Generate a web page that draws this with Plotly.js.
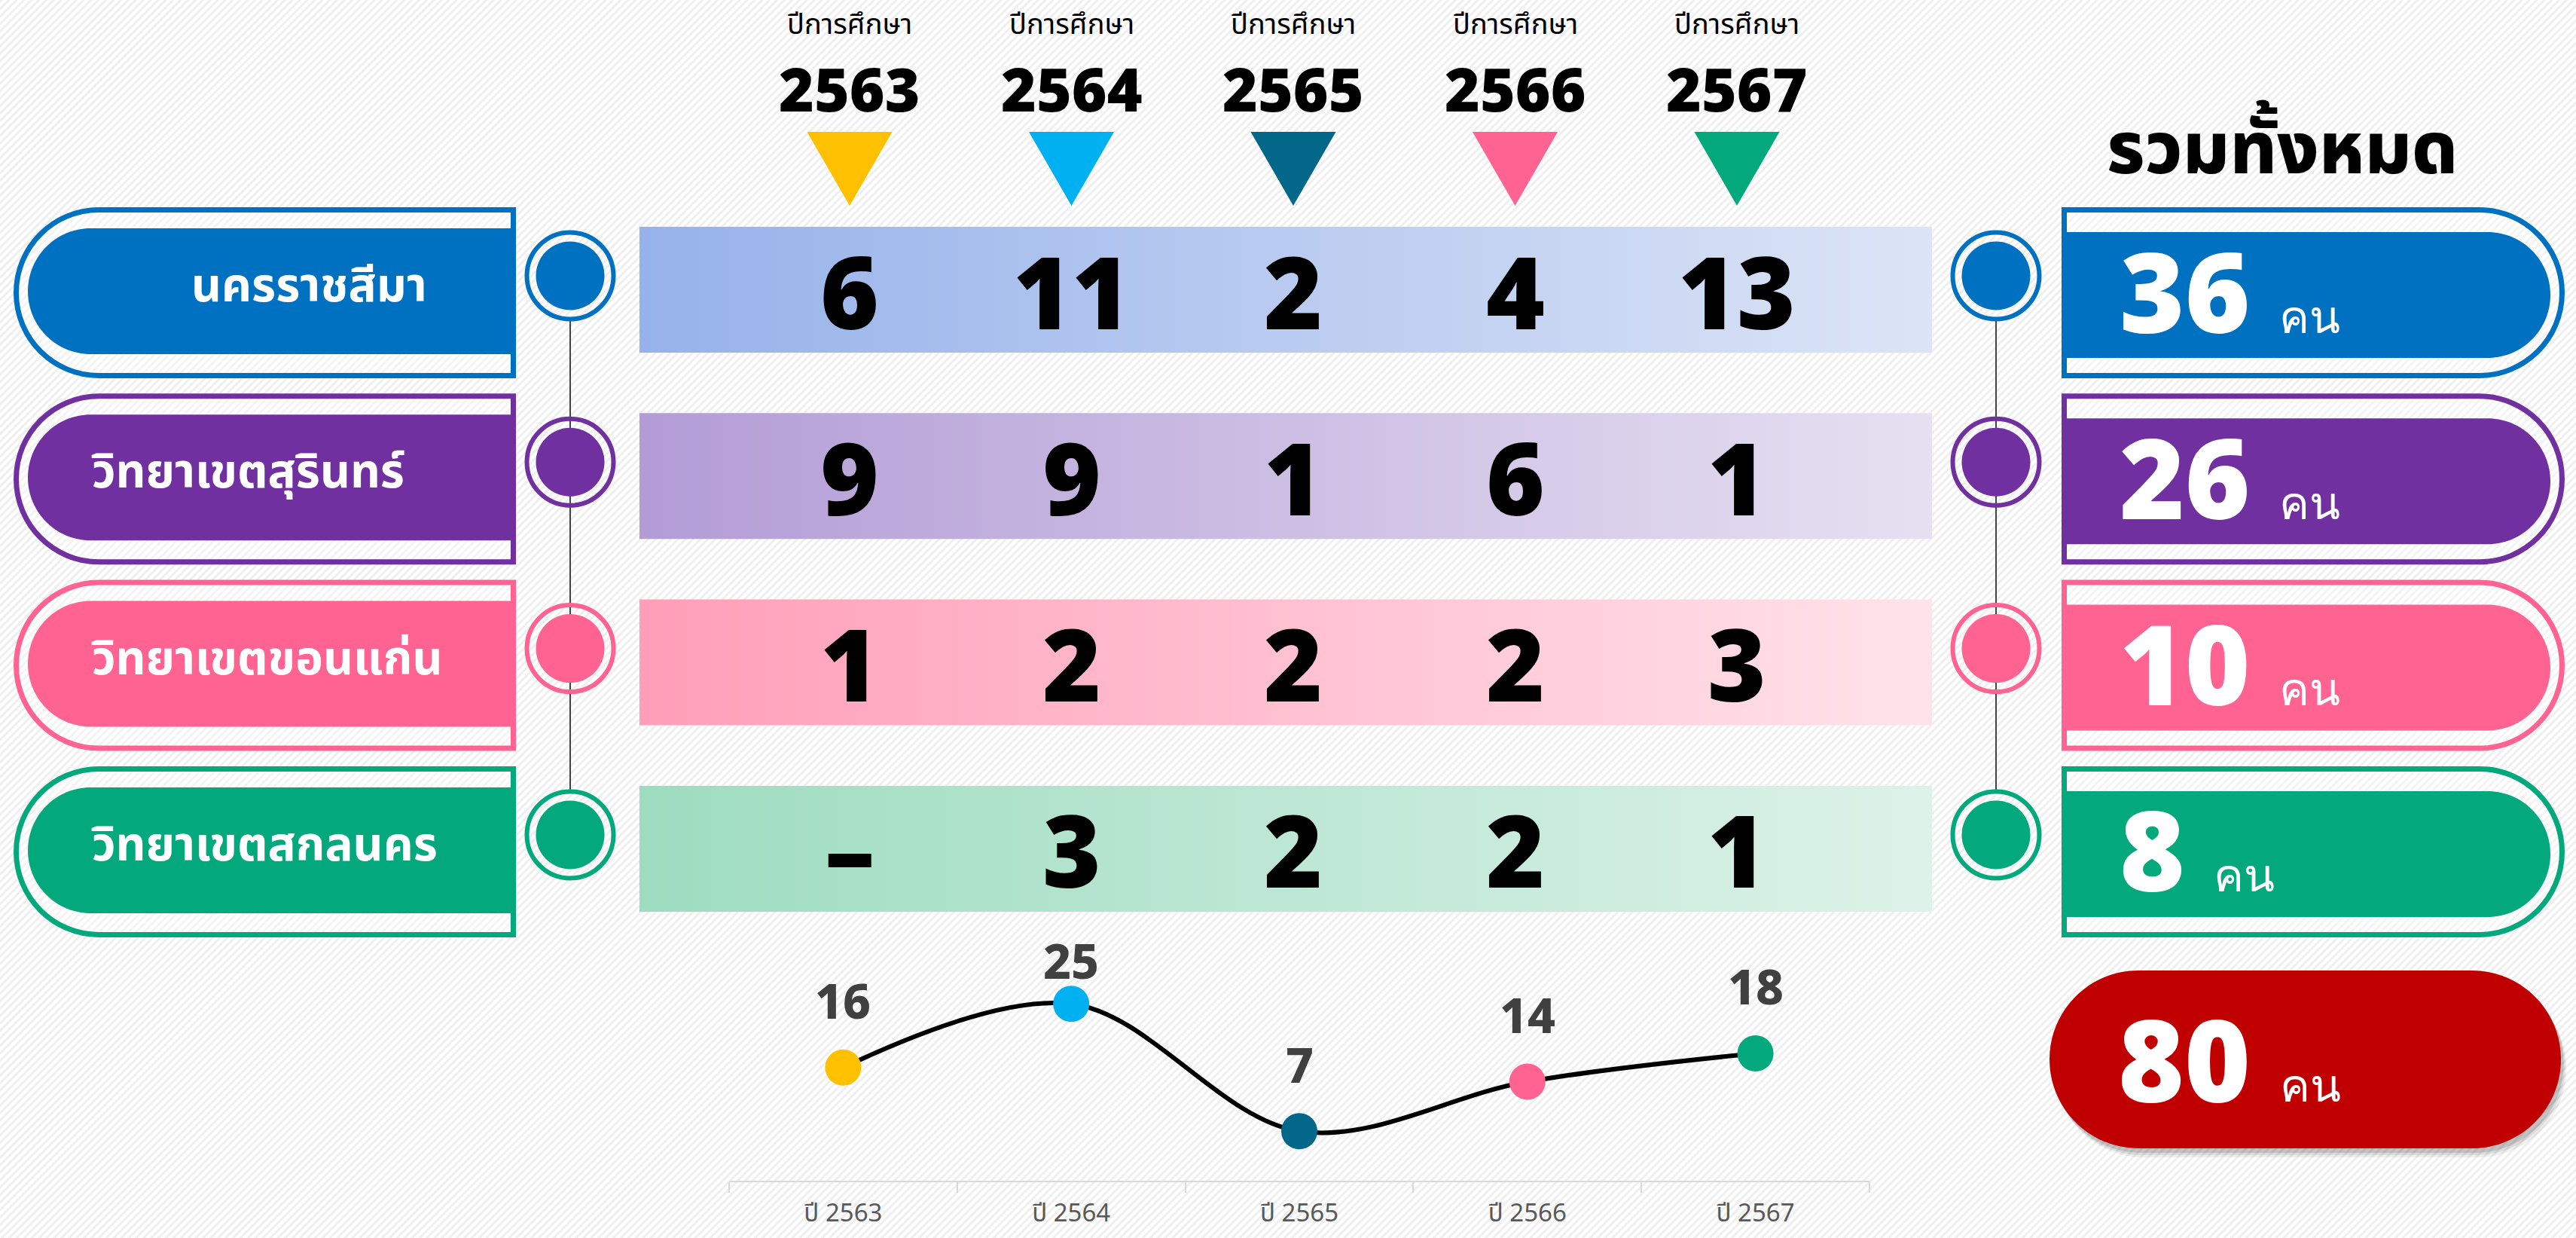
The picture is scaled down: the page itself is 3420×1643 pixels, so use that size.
<!DOCTYPE html>
<html>
<head>
<meta charset="utf-8">
<script src="https://cdn.plot.ly/plotly-3.0.1.min.js"></script>
<style>html,body{margin:0;padding:0;background:#fff;}#chart{width:3420px;height:1643px;}</style>
</head>
<body>
<div id="chart"></div>
<script>
// ---------------- DATA ----------------
const years = ['2563', '2564', '2565', '2566', '2567'];
const yearHeader = 'ปีการศึกษา';
const axisLabels = ['ปี 2563', 'ปี 2564', 'ปี 2565', 'ปี 2566', 'ปี 2567'];
const campuses = ['นครราชสีมา', 'วิทยาเขตสุรินทร์', 'วิทยาเขตขอนแก่น', 'วิทยาเขตสกลนคร'];
const nakhonRatchasima = [6, 11, 2, 4, 13];
const surin = [9, 9, 1, 6, 1];
const khonKaen = [1, 2, 2, 2, 3];
const sakonNakhon = [null, 3, 2, 2, 1];
const campusTotals = [36, 26, 10, 8];
const yearTotals = [16, 25, 7, 14, 18];
const grandTotal = 80;
const totalTitle = 'รวมทั้งหมด';
const unit = 'คน';

// ---------------- STYLE ----------------
const W = 3420, H = 1643;
const yearColors = ['#FFC000', '#00B0F0', '#03678A', '#FF6392', '#03A87C'];
const rowColors = ['#0070C0', '#7030A0', '#FF6392', '#03A87C'];
const bandGrad = [['#96B2EA', '#DCE4F6'], ['#B39CD6', '#E6E0F1'], ['#FF9EB8', '#FFE3EA'], ['#9DDCC0', '#DDF2E8']];
const THAI = '"Noto Sans Thai", "Noto Sans Thai UI", "Noto Sans", sans-serif';
const NUM = '"Noto Sans", "DejaVu Sans", sans-serif';
const rows = [nakhonRatchasima, surin, khonKaen, sakonNakhon];
const rowTop = i => 301 + i * 247.3;
const labelX = [252, 119, 119, 119];
const labelLift = [89, 58, 89, 89, 89];

function pillL(x0, x1, y0, y1) {
  const r = (y1 - y0) / 2, k = 0.5523 * r, ym = (y0 + y1) / 2, xc = x0 + r;
  return `M${x1},${y0} L${xc},${y0} C${xc - k},${y0} ${x0},${ym - k} ${x0},${ym} C${x0},${ym + k} ${xc - k},${y1} ${xc},${y1} L${x1},${y1} Z`;
}
function pillR(x0, x1, y0, y1) {
  const r = (y1 - y0) / 2, k = 0.5523 * r, ym = (y0 + y1) / 2, xc = x1 - r;
  return `M${x0},${y0} L${xc},${y0} C${xc + k},${y0} ${x1},${ym - k} ${x1},${ym} C${x1},${ym + k} ${xc + k},${y1} ${xc},${y1} L${x0},${y1} Z`;
}
function pillB(x0, x1, y0, y1) {
  const r = (y1 - y0) / 2, k = 0.5523 * r, ym = (y0 + y1) / 2, xa = x0 + r, xb = x1 - r;
  return `M${xa},${y0} L${xb},${y0} C${xb + k},${y0} ${x1},${ym - k} ${x1},${ym} C${x1},${ym + k} ${xb + k},${y1} ${xb},${y1} L${xa},${y1} C${xa - k},${y1} ${x0},${ym + k} ${x0},${ym} C${x0},${ym - k} ${xa - k},${y0} ${xa},${y0} Z`;
}

const shapes = [];
const annotations = [];
const traces = [];

// connector lines
const cy = i => rowTop(i) + 65;
[757, 2650].forEach(cx => {
  shapes.push({type: 'line', xref: 'x', yref: 'y', x0: cx, x1: cx, y0: cy(0) + 60, y1: cy(3) - 60, line: {color: '#444444', width: 2}, layer: 'below'});
});

rows.forEach((vals, i) => {
  const t = rowTop(i), c = rowColors[i];
  // left label pill
  shapes.push({type: 'path', xref: 'x', yref: 'y', path: pillL(21.5, 681.5, t - 22.5, t + 197.5), line: {color: c, width: 7}, fillcolor: 'rgba(255,255,255,0.35)', layer: 'below'});
  shapes.push({type: 'path', xref: 'x', yref: 'y', path: pillL(37, 678, t + 2, t + 169), line: {width: 0}, fillcolor: c, layer: 'below'});
  // right total pill
  shapes.push({type: 'path', xref: 'x', yref: 'y', path: pillR(2740.5, 3401.5, t - 22.5, t + 197.5), line: {color: c, width: 7}, fillcolor: 'rgba(255,255,255,0.35)', layer: 'below'});
  shapes.push({type: 'path', xref: 'x', yref: 'y', path: pillR(2744, 3386, t + 7, t + 174), line: {width: 0}, fillcolor: c, layer: 'below'});
  // circles
  [757, 2650].forEach(cx => {
    shapes.push({type: 'circle', xref: 'x', yref: 'y', x0: cx - 57.5, x1: cx + 57.5, y0: cy(i) - 57.5, y1: cy(i) + 57.5, line: {color: c, width: 6}, fillcolor: 'rgba(0,0,0,0)', layer: 'below'});
    shapes.push({type: 'circle', xref: 'x', yref: 'y', x0: cx - 45.5, x1: cx + 45.5, y0: cy(i) - 45.5, y1: cy(i) + 45.5, line: {width: 0}, fillcolor: c, layer: 'below'});
  });
  // gradient band
  traces.push({
    type: 'scatter', mode: 'lines', xaxis: 'x', yaxis: 'y', hoverinfo: 'skip', showlegend: false,
    x: [849, 2565, 2565, 849, 849], y: [t, t, t + 167, t + 167, t],
    fill: 'toself', line: {width: 0, color: 'rgba(0,0,0,0)'},
    fillgradient: {type: 'horizontal', colorscale: [[0, bandGrad[i][0]], [1, bandGrad[i][1]]]}
  });
  // campus label
  annotations.push({xref: 'x', yref: 'y', x: labelX[i], y: t + 80, xanchor: 'left', yanchor: 'middle', showarrow: false,
    text: campuses[i], font: {family: THAI, size: 62, color: '#ffffff', weight: 700}});
  // table values
  vals.forEach((v, j) => {
    annotations.push({xref: 'x3', yref: 'y3', x: j, y: i, xanchor: 'center', yanchor: 'middle', showarrow: false,
      text: v === null ? '–' : String(v), font: {family: NUM, size: 133, color: '#000000', weight: 900}});
  });
  // totals
  annotations.push({xref: 'x', yref: 'y', x: 2812, y: t + 83, xanchor: 'left', yanchor: 'middle', showarrow: false,
    text: `${campusTotals[i]}&nbsp;<span style="font-size:60px;font-weight:400">${unit}</span>`,
    font: {family: NUM, size: 148, color: '#ffffff', weight: 900}});
});

// header: year labels and triangles
years.forEach((y, j) => {
  annotations.push({xref: 'x3', yref: 'y', x: j, y: 33, xanchor: 'center', yanchor: 'middle', showarrow: false,
    text: yearHeader, font: {family: THAI, size: 38, color: '#000000'}});
  annotations.push({xref: 'x3', yref: 'y', x: j, y: 116, xanchor: 'center', yanchor: 'middle', showarrow: false,
    text: y, font: {family: NUM, size: 80, color: '#000000', weight: 900}});
  const hw = 0.192;
  shapes.push({type: 'path', xref: 'x3', yref: 'y', path: `M${j - hw},175 L${j + hw},175 L${j},273 Z`, line: {width: 0}, fillcolor: yearColors[j], layer: 'below'});
});

// total title
annotations.push({xref: 'x', yref: 'y', x: 3030, y: 200, xanchor: 'center', yanchor: 'middle', showarrow: false,
  text: totalTitle, font: {family: THAI, size: 96, color: '#000000', weight: 800}});

// grand total pill with shadow
[[12, 0.06], [9, 0.08], [6, 0.12]].forEach(([d, a]) => {
  shapes.push({type: 'path', xref: 'x', yref: 'y', path: pillB(2721 + d * 0.6, 3400 + d * 0.6, 1288 + d, 1524 + d), line: {width: 0}, fillcolor: `rgba(0,0,0,${a})`, layer: 'below'});
});
shapes.push({type: 'path', xref: 'x', yref: 'y', path: pillB(2721, 3400, 1288, 1524), line: {width: 0}, fillcolor: '#C00000', layer: 'below'});
annotations.push({xref: 'x', yref: 'y', x: 2810, y: 1404, xanchor: 'left', yanchor: 'middle', showarrow: false,
  text: `${grandTotal}&nbsp;<span style="font-size:60px;font-weight:400">${unit}</span>`,
  font: {family: NUM, size: 150, color: '#ffffff', weight: 900}});

// line chart of yearly totals
traces.push({
  type: 'scatter', mode: 'lines+markers', xaxis: 'x2', yaxis: 'y2', hoverinfo: 'skip', showlegend: false,
  x: axisLabels, y: yearTotals, cliponaxis: false,
  line: {shape: 'spline', smoothing: 1, color: '#000000', width: 6},
  marker: {size: 48, color: yearColors, line: {width: 0}}
});
yearTotals.forEach((v, j) => {
  annotations.push({xref: 'x2', yref: 'y2', x: axisLabels[j], y: v, yshift: labelLift[j], xanchor: 'center', yanchor: 'middle', showarrow: false,
    text: String(v), font: {family: NUM, size: 64, color: '#404040', weight: 800}});
});

// invisible anchor trace for the table axes
traces.push({type: 'scatter', mode: 'markers', xaxis: 'x3', yaxis: 'y3', x: [0, 4], y: [0, 3], marker: {opacity: 0}, hoverinfo: 'skip', showlegend: false});

// background stripes
const svgBg = `<svg xmlns='http://www.w3.org/2000/svg' width='${W}' height='${H}'><defs><pattern id='p' width='7' height='7' patternUnits='userSpaceOnUse' patternTransform='rotate(45)'><rect width='7' height='7' fill='#ffffff'/><rect width='3' height='7' fill='#efefef'/></pattern></defs><rect width='100%' height='100%' fill='url(#p)'/></svg>`;

const layout = {
  width: W, height: H, autosize: false,
  margin: {l: 0, r: 0, t: 0, b: 0, pad: 0},
  paper_bgcolor: '#f8f8f8', plot_bgcolor: 'rgba(0,0,0,0)',
  showlegend: false,
  images: [{source: 'data:image/svg+xml;charset=utf-8,' + encodeURIComponent(svgBg), xref: 'paper', yref: 'paper', x: 0, y: 1, sizex: 1, sizey: 1, sizing: 'stretch', xanchor: 'left', yanchor: 'top', layer: 'below'}],
  xaxis: {domain: [0, 1], range: [0, W], visible: false, fixedrange: true, anchor: 'y'},
  yaxis: {domain: [0, 1], range: [H, 0], visible: false, fixedrange: true, anchor: 'x'},
  xaxis2: {
    domain: [968 / W, 2482 / W], range: [-0.5, 4.5], type: 'category', anchor: 'y2',
    showline: true, linecolor: '#D9D9D9', linewidth: 2, showgrid: false, zeroline: false,
    ticks: 'outside', tickson: 'boundaries', ticklen: 14, tickwidth: 2, tickcolor: '#D9D9D9',
    ticklabelstandoff: 12,
    tickfont: {family: THAI, size: 33, color: '#595959'}, fixedrange: true
  },
  yaxis2: {domain: [1 - 1567 / H, 1 - 1285.3 / H], range: [0, 30], visible: false, anchor: 'x2', fixedrange: true},
  xaxis3: {domain: [980.75 / W, 2453.25 / W], range: [-0.5, 4.5], visible: false, anchor: 'y3', fixedrange: true},
  yaxis3: {domain: [1 - 1249.5 / H, 1 - 261.5 / H], range: [3.5, -0.5], visible: false, anchor: 'x3', fixedrange: true},
  shapes: shapes,
  annotations: annotations
};

Plotly.newPlot('chart', traces, layout, {staticPlot: true, displayModeBar: false});
</script>
</body>
</html>
